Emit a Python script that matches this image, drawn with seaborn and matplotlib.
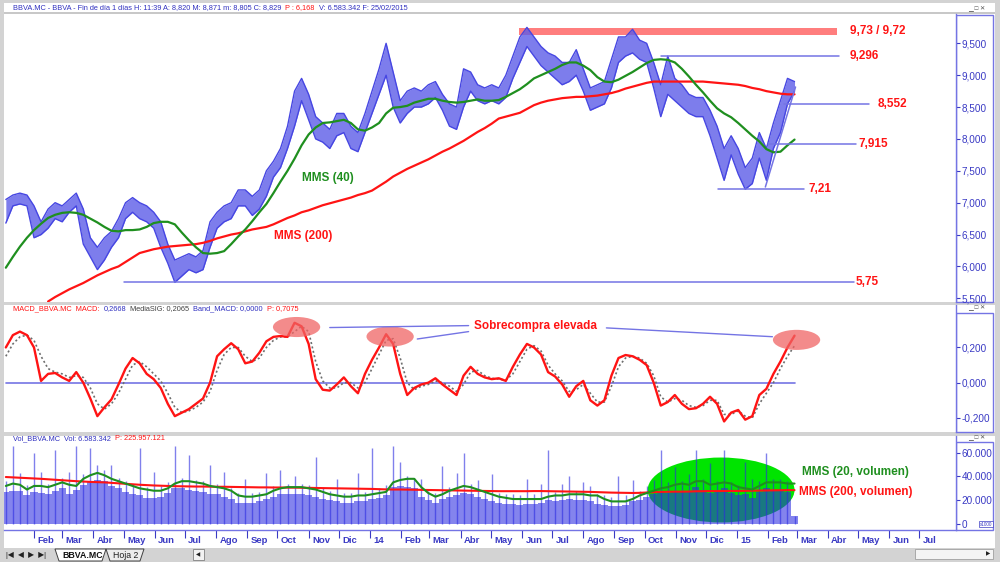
import matplotlib
matplotlib.use("Agg")
import matplotlib.pyplot as plt
import matplotlib.dates as mdates
from matplotlib.patches import Ellipse, Rectangle, Polygon
from matplotlib.transforms import ScaledTranslation
from matplotlib.ticker import FixedLocator, FuncFormatter
import numpy as np
import pandas as pd
import seaborn as sns

# ---------------------------------------------------------------------------
# Data (weekly readings, Jan 2013 - Feb 2015)
# ---------------------------------------------------------------------------

weeks = pd.date_range("2013-01-04", periods=113, freq="W-FRI")

price_lo = [
    6.68, 6.95, 6.98, 6.95, 6.45, 6.50, 6.60, 6.75, 6.70, 6.85,
    6.95, 6.35, 6.15, 5.95, 6.10, 6.30, 6.45, 6.75, 6.85, 6.75,
    6.70, 6.60, 6.30, 6.05, 5.75, 5.85, 5.95, 5.90, 5.95, 6.30,
    6.60, 6.70, 6.75, 6.95, 6.95, 6.80, 6.90, 7.10, 7.40, 7.55,
    7.85, 8.20, 8.60, 8.30, 8.00, 7.95, 7.85, 8.05, 8.10, 7.85,
    7.80, 8.10, 8.40, 8.70, 9.00, 8.50, 8.25, 8.40, 8.50, 8.50,
    8.55, 8.65, 8.45, 8.20, 8.15, 8.50, 8.75, 8.60, 8.55, 8.60,
    8.55, 8.65, 8.95, 9.20, 9.45, 9.30, 9.15, 9.05, 8.95, 8.85,
    8.90, 9.00, 8.75, 8.45, 8.50, 8.55, 8.80, 9.20, 9.30, 9.35,
    9.25, 9.20, 8.80, 8.35, 8.70, 8.60, 8.50, 8.40, 8.35, 8.35,
    8.05, 7.70, 7.35, 7.75, 7.45, 7.21, 7.30, 7.70, 7.35, 7.85,
    8.10, 8.55, 8.75,
]
price_hi = [
    7.05, 7.12, 7.15, 7.12, 6.95, 6.70, 6.90, 7.00, 6.95, 7.05,
    7.15, 6.90, 6.45, 6.30, 6.45, 6.55, 6.75, 7.00, 7.08, 7.00,
    6.95, 6.85, 6.70, 6.35, 6.10, 6.15, 6.20, 6.15, 6.25, 6.70,
    6.85, 6.95, 7.00, 7.20, 7.20, 7.10, 7.20, 7.50, 7.65, 7.85,
    8.20, 8.75, 8.95, 8.70, 8.35, 8.25, 8.15, 8.40, 8.40, 8.20,
    8.10, 8.40, 8.75, 9.10, 9.50, 9.05, 8.60, 8.75, 8.80, 8.75,
    8.85, 8.90, 8.70, 8.55, 8.50, 9.10, 9.05, 8.85, 8.80, 8.85,
    8.80, 9.00, 9.30, 9.60, 9.75, 9.60, 9.45, 9.35, 9.30, 9.20,
    9.20, 9.40, 9.10, 8.80, 8.85, 8.90, 9.25, 9.60, 9.60, 9.72,
    9.55, 9.50, 9.20, 8.85, 9.30, 8.95, 8.85, 8.70, 8.65, 8.65,
    8.45, 8.20, 7.85, 8.05, 7.85, 7.55, 7.70, 8.10, 7.85, 8.25,
    8.60, 8.95, 8.90,
]
mms40 = [
    5.98, 6.15, 6.31, 6.45, 6.57, 6.67, 6.76, 6.81, 6.84, 6.85,
    6.84, 6.81, 6.75, 6.69, 6.62, 6.56, 6.55, 6.57, 6.57, 6.58,
    6.62, 6.68, 6.70, 6.70, 6.66, 6.53, 6.41, 6.30, 6.21, 6.20,
    6.21, 6.24, 6.35, 6.47, 6.58, 6.71, 6.85, 6.98, 7.15, 7.33,
    7.50, 7.69, 7.90, 8.07, 8.18, 8.25, 8.26, 8.28, 8.30, 8.25,
    8.15, 8.13, 8.18, 8.25, 8.40, 8.49, 8.50, 8.52, 8.57, 8.60,
    8.63, 8.63, 8.60, 8.58, 8.57, 8.58, 8.60, 8.62, 8.60, 8.60,
    8.61, 8.66, 8.72, 8.78, 8.86, 8.95, 9.00, 9.05, 9.10, 9.16,
    9.20, 9.20, 9.15, 9.08, 8.97, 8.90, 8.89, 8.93, 8.99, 9.05,
    9.12, 9.19, 9.24, 9.25, 9.24, 9.20, 9.10, 8.98, 8.85, 8.73,
    8.60, 8.48, 8.40, 8.34, 8.25, 8.15, 8.05, 7.96, 7.84, 7.79,
    7.80, 7.90, 7.99,
]
mms200 = [np.nan] * 6 + [
    5.45, 5.52, 5.58, 5.64,
    5.69, 5.74, 5.80, 5.86, 5.91, 5.96, 6.00, 6.07, 6.14, 6.21,
    6.24, 6.27, 6.29, 6.31, 6.32, 6.33, 6.34, 6.35, 6.37, 6.40,
    6.44, 6.47, 6.50, 6.52, 6.55, 6.58, 6.60, 6.62, 6.66, 6.71,
    6.76, 6.80, 6.85, 6.88, 6.92, 6.96, 6.99, 7.02, 7.05, 7.08,
    7.12, 7.15, 7.19, 7.26, 7.33, 7.41, 7.47, 7.53, 7.58, 7.63,
    7.68, 7.74, 7.80, 7.85, 7.91, 7.97, 8.04, 8.11, 8.17, 8.24,
    8.32, 8.35, 8.38, 8.41, 8.47, 8.53, 8.57, 8.60, 8.62, 8.64,
    8.65, 8.66, 8.66, 8.67, 8.68, 8.70, 8.72, 8.75, 8.79, 8.82,
    8.85, 8.88, 8.90, 8.90, 8.90, 8.90, 8.90, 8.90, 8.90, 8.90,
    8.89, 8.88, 8.87, 8.86, 8.85, 8.83, 8.80, 8.78, 8.75, 8.73,
    8.71, 8.70, 8.70,
]
macd = [
    0.20, 0.27, 0.29, 0.27, 0.20, 0.01, 0.05, 0.055, 0.03, 0.01,
    0.06, 0.00, -0.09, -0.19, -0.14, -0.095, -0.01, 0.08, 0.14, 0.11,
    0.05, 0.02, -0.03, -0.12, -0.19, -0.17, -0.15, -0.12, -0.09, 0.00,
    0.15, 0.19, 0.224, 0.19, 0.11, 0.12, 0.17, 0.235, 0.26, 0.265,
    0.26, 0.34, 0.32, 0.22, 0.02, -0.04, -0.045, -0.01, 0.03, -0.02,
    -0.06, 0.05, 0.13, 0.20, 0.275, 0.22, 0.05, -0.07, -0.03, -0.01,
    0.00, 0.025, -0.01, -0.04, -0.07, 0.04, 0.09, 0.05, 0.03, 0.02,
    0.025, 0.01, 0.09, 0.16, 0.22, 0.20, 0.16, 0.06, 0.035, -0.01,
    -0.08, -0.02, 0.01, -0.10, -0.13, -0.10, 0.04, 0.14, 0.157, 0.15,
    0.13, 0.10, 0.00, -0.13, -0.11, -0.07, -0.12, -0.15, -0.145, -0.12,
    -0.08, -0.12, -0.22, -0.17, -0.155, -0.21, -0.19, -0.07, -0.035, 0.05,
    0.12, 0.20, 0.267,
]
signal = [
    0.15, 0.22, 0.26, 0.27, 0.24, 0.15, 0.08, 0.06, 0.05, 0.03,
    0.04, 0.03, -0.03, -0.12, -0.15, -0.12, -0.06, 0.02, 0.10, 0.12,
    0.09, 0.05, 0.01, -0.06, -0.14, -0.17, -0.16, -0.14, -0.11, -0.05,
    0.07, 0.16, 0.20, 0.20, 0.15, 0.12, 0.14, 0.20, 0.24, 0.26,
    0.26, 0.29, 0.32, 0.29, 0.12, 0.01, -0.03, -0.03, 0.00, 0.00,
    -0.03, 0.00, 0.08, 0.16, 0.24, 0.25, 0.14, 0.00, -0.04, -0.02,
    -0.01, 0.01, 0.00, -0.02, -0.05, -0.01, 0.06, 0.07, 0.04, 0.025,
    0.02, 0.015, 0.05, 0.12, 0.19, 0.21, 0.18, 0.10, 0.05, 0.01,
    -0.05, -0.04, -0.01, -0.06, -0.11, -0.11, -0.02, 0.09, 0.14, 0.15,
    0.14, 0.11, 0.04, -0.08, -0.11, -0.09, -0.10, -0.13, -0.14, -0.13,
    -0.10, -0.10, -0.18, -0.18, -0.16, -0.19, -0.20, -0.12, -0.06, 0.00,
    0.08, 0.15, 0.21,
]
# volume in millions of shares (axis shows thousands x1000)
vol = [
    27, 28, 28, 24, 27, 26, 25, 28, 30, 25,
    29, 33, 35, 37, 36, 32, 30, 27, 25, 24,
    22, 22, 23, 26, 30, 30, 29, 28, 27, 25,
    25, 23, 21, 18, 18, 18, 19, 21, 23, 25,
    25, 25, 25, 24, 23, 21, 20, 19, 18, 18,
    19, 19, 21, 22, 24, 31, 32, 31, 30, 23,
    20, 18, 21, 23, 24, 26, 25, 23, 21, 19,
    18, 17, 17, 16, 17, 17, 18, 20, 19, 20,
    21, 20, 20, 19, 17, 16, 15, 15, 16, 19,
    20, 23, 25, 27, 26, 28, 27, 27, 31, 29,
    26, 27, 30, 26, 24, 25, 22, 27, 30, 29,
    28, 27, 7,
]
vol_peak = [
    36, 66, 43, 33, 60, 44, 34, 62, 39, 44,
    66, 42, 64, 50, 45, 50, 39, 36, 34, 64,
    31, 44, 32, 35, 66, 39, 58, 37, 36, 50,
    34, 44, 30, 26, 38, 26, 27, 43, 32, 45,
    34, 40, 34, 33, 56, 30, 28, 38, 26, 26,
    43, 27, 64, 30, 33, 66, 52, 40, 39, 38,
    28, 26, 49, 31, 43, 60, 34, 37, 29, 42,
    26, 25, 25, 24, 38, 25, 34, 62, 27, 34,
    40, 28, 35, 32, 25, 24, 23, 40, 24, 37,
    28, 32, 37, 62, 35, 48, 36, 42, 62, 38,
    51, 36, 62, 35, 33, 52, 38, 36, 60, 38,
    38, 36, 7,
]
vol_mms20 = [
    32, 34, 33, 29, 32, 32, 31, 33, 35, 33,
    32, 38, 41, 43, 41, 38, 36, 34, 32, 30,
    29, 28, 28, 30, 34, 36, 36, 35, 34, 32,
    31, 30, 28, 24, 23, 23, 24, 25, 28, 30,
    31, 31, 31, 30, 29, 27, 25, 24, 23, 23,
    24, 24, 25, 26, 27, 35, 37, 38, 38, 31,
    26, 23, 25, 28, 30, 32, 31, 29, 27, 25,
    23, 22, 21, 21, 21, 21, 21, 23, 24, 24,
    25, 25, 25, 24, 24, 21, 19, 19, 19, 21,
    24, 26, 28, 30, 31, 33, 34, 33, 36, 36,
    33, 34, 35, 34, 31, 30, 29, 32, 35, 35,
    35, 34, 34,
]
vol_mms200 = [
    39.5, 39.2, 38.9, 38.6, 38.3, 38.0, 37.6, 37.2, 36.8, 36.4,
    36.0, 35.7, 35.4, 35.2, 35.0, 34.6, 34.2, 33.8, 33.4, 33.0,
    32.7, 32.4, 32.2, 32.0, 31.8, 31.7, 31.6, 31.5, 31.5, 31.4,
    31.3, 31.3, 31.2, 31.1, 31.0, 30.9, 30.8, 30.8, 30.7, 30.7,
    30.6, 30.6, 30.5, 30.4, 30.3, 30.2, 30.1, 30.0, 29.9, 29.8,
    29.7, 29.6, 29.5, 29.3, 29.1, 29.0, 29.0, 28.9, 28.8, 28.7,
    28.6, 28.5, 28.4, 28.3, 28.2, 28.1, 28.0, 27.9, 27.8, 27.7,
    27.6, 27.6, 27.6, 27.6, 27.6, 27.7, 27.7, 27.6, 27.5, 27.4,
    27.3, 27.2, 27.1, 27.0, 26.8, 26.6, 26.4, 26.3, 26.2, 26.1,
    26.2, 26.5, 26.8, 27.0, 27.1, 27.2, 27.2, 27.3, 27.5, 27.6,
    27.7, 27.7, 27.8, 27.8, 27.8, 27.9, 28.0, 28.1, 28.2, 28.3,
    28.4, 28.5, 28.5,
]

# horizontal support / resistance levels: price, line start, line end, label, label date
LEVELS = [
    (9.296, "2014-10-17", "2015-04-12", "9,296", "2015-04-23"),
    (8.552, "2015-02-17", "2015-05-12", "8,552", "2015-05-21"),
    (7.915, "2015-02-01", "2015-04-29", "7,915", "2015-05-02"),
    (7.21, "2014-12-13", "2015-03-08", "7,21", "2015-03-13"),
    (5.75, "2013-05-01", "2015-04-27", "5,75", "2015-04-29"),
]
MACD_PEAKS = [("2013-10-20", 0.316), ("2014-01-21", 0.262), ("2015-03-01", 0.243)]
MESES = ["Ene", "Feb", "Mar", "Abr", "May", "Jun",
         "Jul", "Ago", "Sep", "Oct", "Nov", "Dic"]

# ---------------------------------------------------------------------------
# Style
# ---------------------------------------------------------------------------

BLUE = "#4646e2"
TICK_BLUE = "#3a3ac4"
LINE_BLUE = "#7474e4"
RED = "#ff1414"
GREEN = "#1f8f1f"

sns.set_theme(style="white")
plt.rcParams["font.family"] = ["Liberation Sans", "DejaVu Sans"]

W, H = 1000, 562
fig = plt.figure(figsize=(W / 100, H / 100), dpi=100, facecolor="#d3d3d3")


def fig_rect(x0, y0, x1, y1):
    return [x0 / W, 1 - y1 / H, (x1 - x0) / W, (y1 - y0) / H]


def px_box(x0, y0, x1, y1, **kw):
    r = Rectangle((x0 / W, 1 - y1 / H), (x1 - x0) / W, (y1 - y0) / H,
                  transform=fig.transFigure, **kw)
    fig.add_artist(r)
    return r


def d(s):
    return mdates.date2num(pd.Timestamp(s))


def header(x_px, y_px, parts, size=5.3):
    renderer = fig.canvas.get_renderer()
    x = x_px
    for txt, col in parts:
        t = fig.text(x / W, 1 - y_px / H, txt, color=col, fontsize=size,
                     va="center", ha="left")
        bb = t.get_window_extent(renderer)
        x = bb.x1 + 4


# panel backgrounds
for y0, y1 in [(3, 302), (305, 432), (436, 530), (530, 548)]:
    px_box(4, y0, 995, y1, facecolor="white", edgecolor="none", zorder=-2)
px_box(4, 12.5, 995, 13.5, facecolor="#c8c8c8", edgecolor="none", zorder=-1.5)
# right value boxes
for y0, y1 in [(15, 302), (313, 432), (442, 530)]:
    px_box(956, y0, 993, y1, facecolor="white", edgecolor=LINE_BLUE,
           lw=1.0, zorder=-1)

ax1 = fig.add_axes(fig_rect(4, 14, 956, 302))
ax2 = fig.add_axes(fig_rect(4, 305, 956, 432), sharex=ax1)
ax3 = fig.add_axes(fig_rect(4, 436, 956, 530), sharex=ax1)

D0 = d("2013-02-01")
ax1.set_xlim(D0 + (4 - 34) / 1.006, D0 + (956 - 34) / 1.006)
ax1.set_ylim(5.442, 9.96)
ax2.set_ylim(-0.280, 0.441)
ax3.set_ylim(-5.04, 74.0)

df = pd.DataFrame({
    "date": weeks, "lo": price_lo, "hi": price_hi,
    "mms40": mms40, "mms200": mms200, "macd": macd, "signal": signal,
    "vol": vol, "vol_peak": vol_peak,
    "vol_mms20": vol_mms20, "vol_mms200": vol_mms200,
})

# ---------------------------------------------------------------------------
# Price panel
# ---------------------------------------------------------------------------

ax1.fill_between(df["date"], df["lo"], df["hi"], color="#5c5ce8",
                 alpha=0.8, lw=0, zorder=2)
sns.lineplot(data=df, x="date", y="lo", ax=ax1, color=BLUE, lw=1.0, zorder=2)
sns.lineplot(data=df, x="date", y="hi", ax=ax1, color=BLUE, lw=1.0, zorder=2)
sns.lineplot(data=df, x="date", y="mms200", ax=ax1, color=RED, lw=1.6, zorder=3)
sns.lineplot(data=df, x="date", y="mms40", ax=ax1, color=GREEN, lw=1.6, zorder=3)

ax1.fill_between([d("2014-05-29"), d("2015-04-10")], 9.63, 9.74,
                 color="#ff7070", alpha=0.9, lw=0, zorder=1)
ax1.text(d("2015-04-23"), 9.69, "9,73 / 9,72", color=RED, fontsize=8.5,
         fontweight="bold", va="center")
for price, x0, x1, label, xt in LEVELS:
    ax1.plot([d(x0), d(x1)], [price, price], color=LINE_BLUE, lw=1.1, zorder=4)
    ax1.text(d(xt), price, label, color=RED, fontsize=8.5,
             fontweight="bold", va="center")
ax1.plot([d("2015-01-29"), d("2015-02-28")], [7.246, 8.815],
         color=LINE_BLUE, lw=1.1, zorder=4)
ax1.text(d("2013-10-25"), 7.39, "MMS (40)", color=GREEN, fontsize=8.5,
         fontweight="bold", va="center")
ax1.text(d("2013-09-28"), 6.48, "MMS (200)", color=RED, fontsize=8.5,
         fontweight="bold", va="center")

# ---------------------------------------------------------------------------
# MACD panel
# ---------------------------------------------------------------------------

ax2.plot([weeks[0], weeks[-1]], [0, 0], color=LINE_BLUE, lw=1.2, zorder=1)
for xc, yc in MACD_PEAKS:
    ax2.add_patch(Ellipse((d(xc), yc), width=47, height=0.114,
                          facecolor="#f06464", alpha=0.75, lw=0, zorder=4))
sns.lineplot(data=df, x="date", y="signal", ax=ax2, color="#6e6e6e",
             lw=1.2, linestyle=(0, (1.2, 1.5)), zorder=2)
sns.lineplot(data=df, x="date", y="macd", ax=ax2, color=RED, lw=1.7, zorder=3)
ax2.text(d("2014-04-14"), 0.322, "Sobrecompra elevada", color=RED,
         fontsize=8.5, fontweight="bold", va="center")
for (xa, ya), (xb, yb) in [(("2013-11-22", 0.313), ("2014-04-09", 0.324)),
                           (("2014-02-17", 0.248), ("2014-04-09", 0.290)),
                           (("2014-08-24", 0.311), ("2015-02-05", 0.261))]:
    ax2.plot([d(xa), d(xb)], [ya, yb], color=LINE_BLUE, lw=1.0, zorder=5)

# ---------------------------------------------------------------------------
# Volume panel
# ---------------------------------------------------------------------------

ax3.add_patch(Ellipse((d("2014-12-16"), 28.6), width=146, height=54.6,
                      facecolor="#00e400", edgecolor="none", zorder=1))
ax3.bar(df["date"], df["vol"], width=7.0, color="#2c2ce0", alpha=0.58,
        lw=0, zorder=2)
ax3.vlines(df["date"], 0, df["vol_peak"], color="#2c2ce0", alpha=0.6,
           lw=1.0, zorder=2)
sns.lineplot(data=df, x="date", y="vol_mms200", ax=ax3, color=RED,
             lw=1.5, zorder=3)
sns.lineplot(data=df, x="date", y="vol_mms20", ax=ax3, color=GREEN,
             lw=1.5, zorder=4)
ax3.text(d("2015-03-06"), 43.7, "MMS (20, volumen)", color=GREEN,
         fontsize=8.5, fontweight="bold", va="center")
ax3.text(d("2015-03-03"), 26.9, "MMS (200, volumen)", color=RED,
         fontsize=8.5, fontweight="bold", va="center")

# ---------------------------------------------------------------------------
# Axes cosmetics
# ---------------------------------------------------------------------------

price_ticks = np.arange(5.5, 9.51, 0.5)
macd_ticks = [-0.2, 0.0, 0.2]
vol_ticks = [0, 20, 40, 60]
fmt_price = FuncFormatter(lambda v, p: f"{v:.3f}".replace(".", ","))
fmt_macd = FuncFormatter(lambda v, p: f"{v:.3f}".replace(".", ","))
fmt_vol = FuncFormatter(lambda v, p: f"{v * 1000:,.0f}".replace(",", "."))

for ax, ticks, fmt in [(ax1, price_ticks, fmt_price),
                       (ax2, macd_ticks, fmt_macd),
                       (ax3, vol_ticks, fmt_vol)]:
    ax.set_facecolor("white")
    ax.set_xlabel("")
    ax.set_ylabel("")
    for side in ["top", "left", "bottom"]:
        ax.spines[side].set_visible(False)
    ax.spines["right"].set_color(LINE_BLUE)
    ax.spines["right"].set_linewidth(1.0)
    ax.yaxis.set_major_locator(FixedLocator(ticks))
    ax.yaxis.set_major_formatter(fmt)
    ax.yaxis.tick_right()
    ax.tick_params(axis="y", which="major", right=True, left=False,
                   labelright=True, labelleft=False, direction="out",
                   length=3, width=0.8, pad=1, color=TICK_BLUE,
                   labelcolor=TICK_BLUE, labelsize=7.2)
    ax.grid(False)

ax3.spines["bottom"].set_visible(True)
ax3.spines["bottom"].set_color(LINE_BLUE)
ax3.spines["bottom"].set_linewidth(1.0)

month_ticks = pd.date_range("2013-02-01", "2015-07-01", freq="MS")
month_labels = [f"{m.year % 100:02d}" if m.month == 1 else MESES[m.month - 1]
                for m in month_ticks]
ax3.set_xticks(mdates.date2num(month_ticks))
ax3.set_xticklabels(month_labels, ha="left")
ax3.tick_params(axis="x", bottom=True, direction="out", length=6, width=0.8,
                color=TICK_BLUE, labelcolor=TICK_BLUE, labelsize=6.8, pad=-2)
shift = ScaledTranslation(2.5 / 72, 0, fig.dpi_scale_trans)
for lbl in ax3.get_xticklabels():
    lbl.set_fontweight("bold")
    lbl.set_transform(lbl.get_transform() + shift)
for ax in (ax1, ax2):
    ax.tick_params(axis="x", bottom=False, labelbottom=False)

# ---------------------------------------------------------------------------
# Panel headers, window buttons, sheet tabs
# ---------------------------------------------------------------------------

header(13, 8, [("BBVA.MC - BBVA - Fin de día 1 días H: 11:39 A: 8,820 "
                "M: 8,871 m: 8,805 C: 8,829", "#3030c0"),
               ("P : 6,168", RED),
               ("V: 6.583.342 F: 25/02/2015", "#3030c0")])
header(13, 309, [("MACD_BBVA.MC  MACD:", RED), ("0,2668", "#3030c0"),
                 ("MediaSIG: 0,2065", "#404040"),
                 ("Band_MACD: 0,0000", "#3030c0"), ("P: 0,7075", RED)])
header(13, 439, [("Vol_BBVA.MC  Vol: 6.583.342", "#3030c0"),
                 ("P: 225.957.121", RED)])
for yb in [9, 308, 438]:
    fig.text(968 / W, 1 - yb / H, "▁ □ ✕", fontsize=4.5, color="#505050",
             va="center", ha="left")
fig.text(986 / W, 1 - 524 / H, "x1000", fontsize=3.3, color=TICK_BLUE,
         va="center", ha="center",
         bbox=dict(boxstyle="square,pad=0.15", fc="white", ec=TICK_BLUE, lw=0.5))

fig.text(6 / W, 1 - 555 / H, "|◀  ◀  ▶  ▶|", fontsize=5.5, color="#202020",
         va="center", ha="left")
fig.add_artist(Polygon([(55 / W, 1 - 549 / H), (106 / W, 1 - 549 / H),
                        (102 / W, 1 - 561 / H), (59 / W, 1 - 561 / H)],
                       closed=True, transform=fig.transFigure, fc="white",
                       ec="#404040", lw=0.7, zorder=1))
fig.text(62 / W, 1 - 555 / H, "BBVA.MC", fontsize=6.3, fontweight="bold",
         color="#101010", va="center", ha="left", zorder=2)
fig.add_artist(Polygon([(106 / W, 1 - 549 / H), (144 / W, 1 - 549 / H),
                        (140 / W, 1 - 561 / H), (110 / W, 1 - 561 / H)],
                       closed=True, transform=fig.transFigure, fc="#ececec",
                       ec="#404040", lw=0.7, zorder=1))
fig.text(113 / W, 1 - 555 / H, "Hoja 2", fontsize=6.3, color="#202020",
         va="center", ha="left", zorder=2)
px_box(144, 548.6, 193, 549.4, facecolor="#404040", edgecolor="none", zorder=0)
px_box(193, 549, 204, 560, facecolor="#f2f2f2", edgecolor="#808080", lw=0.6)
fig.text(198.5 / W, 1 - 554.5 / H, "◀", fontsize=4, color="#202020",
         va="center", ha="center")
px_box(915, 549, 993, 559, facecolor="#f4f4f4", edgecolor="#a0a0a0", lw=0.6)
fig.text(988 / W, 1 - 554 / H, "▶", fontsize=4, color="#202020",
         va="center", ha="center")

fig.savefig("out.png", dpi=100, facecolor=fig.get_facecolor())
plt.close(fig)
